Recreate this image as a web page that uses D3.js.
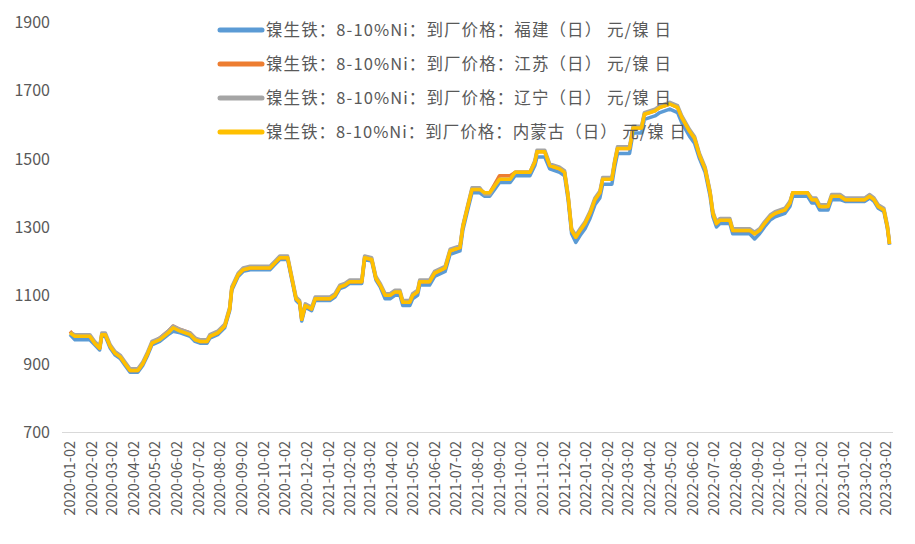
<!DOCTYPE html>
<html><head><meta charset="utf-8">
<script src="https://cdn.jsdelivr.net/npm/d3@7"></script>
<style>body{margin:0;background:#fff}</style></head>
<body><svg id="c" width="915" height="544"></svg>
<script>
const dates = ["2020-01-02","2020-01-09","2020-01-30","2020-02-06","2020-02-13","2020-02-16","2020-02-21","2020-02-28","2020-03-06","2020-03-13","2020-03-20","2020-03-27","2020-04-07","2020-04-14","2020-04-21","2020-04-27","2020-05-08","2020-05-20","2020-05-27","2020-06-06","2020-06-20","2020-06-27","2020-07-04","2020-07-14","2020-07-18","2020-07-29","2020-08-08","2020-08-15","2020-08-18","2020-08-27","2020-09-03","2020-09-13","2020-10-11","2020-10-18","2020-10-25","2020-11-05","2020-11-11","2020-11-17","2020-11-22","2020-11-25","2020-11-30","2020-12-09","2020-12-14","2021-01-04","2021-01-11","2021-01-18","2021-01-25","2021-02-01","2021-02-18","2021-02-22","2021-03-04","2021-03-10","2021-03-16","2021-03-23","2021-03-30","2021-04-06","2021-04-13","2021-04-17","2021-04-27","2021-05-01","2021-05-08","2021-05-11","2021-05-25","2021-06-01","2021-06-16","2021-06-23","2021-07-07","2021-07-11","2021-07-18","2021-07-24","2021-08-04","2021-08-11","2021-08-18","2021-08-25","2021-09-01","2021-09-16","2021-09-23","2021-10-14","2021-10-21","2021-10-24","2021-11-04","2021-11-11","2021-11-25","2021-12-02","2021-12-07","2021-12-12","2021-12-18","2021-12-24","2021-12-31","2022-01-07","2022-01-14","2022-01-21","2022-01-25","2022-02-07","2022-02-11","2022-02-15","2022-03-04","2022-03-09","2022-03-21","2022-03-25","2022-04-09","2022-04-16","2022-04-30","2022-05-11","2022-05-17","2022-05-28","2022-06-04","2022-06-11","2022-06-19","2022-06-26","2022-06-30","2022-07-05","2022-07-10","2022-07-24","2022-07-28","2022-08-21","2022-08-28","2022-09-04","2022-09-11","2022-09-19","2022-09-26","2022-10-10","2022-10-17","2022-10-21","2022-11-11","2022-11-17","2022-11-23","2022-11-28","2022-12-10","2022-12-15","2022-12-27","2023-01-03","2023-01-31","2023-02-07","2023-02-13","2023-02-19","2023-02-27","2023-03-04","2023-03-07"];
const fujian = [985,970,970,955,940,980,980,945,925,915,895,875,875,895,925,955,965,985,995,990,980,965,960,960,975,985,1005,1055,1115,1155,1170,1175,1175,1190,1205,1205,1145,1085,1075,1025,1065,1055,1085,1085,1095,1120,1125,1135,1135,1205,1200,1145,1125,1090,1090,1100,1100,1070,1070,1090,1100,1130,1130,1155,1170,1220,1230,1290,1350,1400,1400,1390,1390,1410,1430,1430,1450,1450,1480,1505,1505,1470,1460,1450,1380,1280,1255,1275,1295,1325,1365,1385,1425,1425,1475,1515,1515,1575,1575,1615,1625,1635,1645,1635,1605,1565,1545,1500,1460,1390,1330,1300,1310,1310,1280,1280,1265,1280,1300,1320,1330,1340,1360,1390,1390,1370,1370,1350,1350,1380,1380,1375,1375,1385,1375,1355,1345,1295,1248];
const jiangsu = [995,980,980,960,945,985,985,950,930,920,900,880,880,900,930,960,975,995,1010,1000,990,975,965,965,980,990,1010,1060,1120,1160,1175,1180,1180,1195,1210,1210,1150,1090,1080,1030,1070,1060,1090,1090,1100,1125,1130,1140,1140,1210,1205,1150,1130,1100,1100,1110,1110,1080,1080,1100,1110,1140,1140,1165,1180,1230,1240,1300,1360,1410,1410,1400,1400,1425,1450,1450,1460,1460,1490,1520,1520,1480,1470,1460,1390,1290,1270,1290,1310,1340,1380,1400,1440,1440,1490,1530,1530,1590,1590,1630,1640,1650,1660,1650,1620,1580,1560,1510,1470,1400,1340,1310,1320,1320,1290,1290,1280,1290,1310,1330,1340,1350,1370,1400,1400,1380,1380,1360,1360,1390,1390,1380,1380,1390,1380,1360,1350,1300,1250];
const liaoning = [990,985,985,965,950,990,990,955,935,925,905,885,885,905,935,965,975,995,1010,1000,990,975,970,970,985,995,1015,1065,1125,1165,1180,1185,1185,1200,1215,1215,1155,1095,1085,1035,1075,1065,1095,1095,1105,1130,1135,1145,1145,1215,1210,1155,1135,1105,1105,1115,1115,1085,1085,1105,1115,1145,1145,1170,1185,1235,1245,1305,1365,1415,1415,1395,1395,1420,1440,1440,1460,1460,1495,1525,1525,1485,1475,1465,1395,1295,1275,1295,1315,1345,1385,1405,1445,1445,1495,1535,1535,1595,1595,1635,1645,1655,1665,1655,1625,1585,1565,1515,1475,1405,1345,1315,1325,1325,1295,1295,1285,1295,1315,1335,1345,1355,1375,1400,1400,1385,1385,1365,1365,1395,1395,1385,1385,1395,1385,1365,1355,1305,1255];
const neimenggu = [990,980,980,960,945,985,985,950,930,920,900,880,880,900,930,960,970,990,1005,995,985,970,965,965,980,990,1010,1060,1120,1160,1175,1180,1180,1195,1210,1210,1150,1090,1080,1030,1070,1060,1090,1090,1100,1125,1130,1140,1140,1210,1205,1150,1130,1100,1100,1110,1110,1080,1080,1100,1110,1140,1140,1165,1180,1230,1240,1300,1360,1410,1410,1400,1400,1420,1440,1440,1460,1460,1490,1520,1520,1480,1470,1460,1390,1290,1270,1290,1310,1340,1380,1400,1440,1440,1490,1530,1530,1590,1590,1630,1640,1650,1660,1650,1620,1580,1560,1510,1470,1400,1340,1310,1320,1320,1290,1290,1280,1290,1310,1330,1340,1350,1370,1400,1400,1380,1380,1360,1360,1390,1390,1380,1380,1390,1380,1360,1350,1300,1250];
const seriesNames = ["镍生铁：8-10%Ni：到厂价格：福建（日） 元/镍 日","镍生铁：8-10%Ni：到厂价格：江苏（日） 元/镍 日","镍生铁：8-10%Ni：到厂价格：辽宁（日） 元/镍 日","镍生铁：8-10%Ni：到厂价格：内蒙古（日） 元/镍 日"];
const legendWidths = [405, 405, 405, 420];
const colors = ["#5b9bd5","#ed7d31","#a5a5a5","#ffc000"];
const yTicks = [700,900,1100,1300,1500,1700,1900];
const xTickLabels = ["2020-01-02","2020-02-02","2020-03-02","2020-04-02","2020-05-02","2020-06-02","2020-07-02","2020-08-02","2020-09-02","2020-10-02","2020-11-02","2020-12-02","2021-01-02","2021-02-02","2021-03-02","2021-04-02","2021-05-02","2021-06-02","2021-07-02","2021-08-02","2021-09-02","2021-10-02","2021-11-02","2021-12-02","2022-01-02","2022-02-02","2022-03-02","2022-04-02","2022-05-02","2022-06-02","2022-07-02","2022-08-02","2022-09-02","2022-10-02","2022-11-02","2022-12-02","2023-01-02","2023-02-02","2023-03-02"];

const svg = d3.select("#c");
const parse = d3.timeParse("%Y-%m-%d");
const x = d3.scaleTime().domain([parse("2020-01-02"), parse("2023-03-02")]).range([70, 886]);
const y = d3.scaleLinear().domain([700,1900]).range([432,22]);
const font = "'Microsoft YaHei','Noto Sans CJK SC',sans-serif";

svg.selectAll(".yl").data(yTicks).join("text")
  .attr("x", 50).attr("y", d => y(d)+6).attr("text-anchor","end")
  .attr("font-size",16).attr("fill","#595959").attr("font-family",font).text(d=>d);
svg.append("line").attr("x1",62).attr("x2",893).attr("y1",432.5).attr("y2",432.5).attr("stroke","#d9d9d9");
svg.selectAll(".xl").data(xTickLabels).join("text")
  .attr("transform", d => `translate(${x(parse(d))+5},441) rotate(-90)`)
  .attr("text-anchor","end").attr("font-size",14.5).attr("fill","#595959").attr("font-family",font).text(d=>d);

const all = [fujian, jiangsu, liaoning, neimenggu];
const line = d3.line().x((d,i)=>x(parse(dates[i]))).y(d=>y(d));
all.forEach((s,k)=>{
  svg.append("path").datum(s).attr("d",line).attr("fill","none")
    .attr("stroke",colors[k]).attr("stroke-width",3.5).attr("stroke-linejoin","round");
});
seriesNames.forEach((n,k)=>{
  const yy = 30 + k*34;
  svg.append("line").attr("x1",220).attr("x2",262).attr("y1",yy).attr("y2",yy)
    .attr("stroke",colors[k]).attr("stroke-width",5).attr("stroke-linecap","round");
  svg.append("text").attr("x",266).attr("y",yy+6).attr("font-size",16.5).attr("fill","#595959")
    .attr("font-family",font).attr("textLength",legendWidths[k]).attr("lengthAdjust","spacing").text(n);
});
</script></body></html>
